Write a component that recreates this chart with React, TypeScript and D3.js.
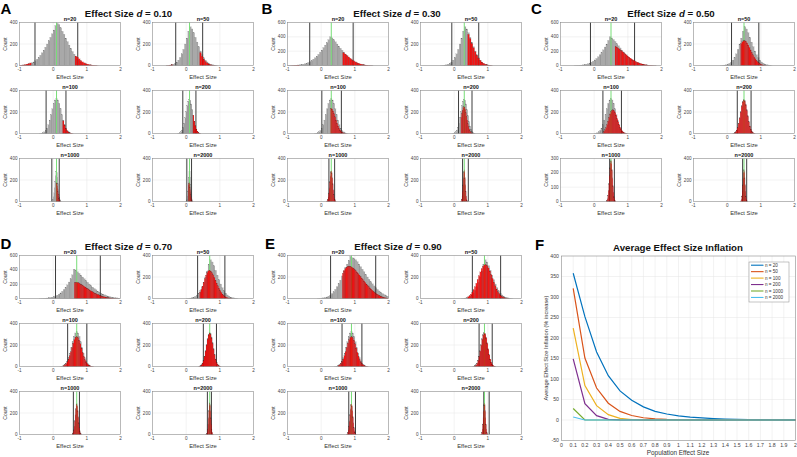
import React from "react";
import * as d3 from "d3";

const FONT = "'Liberation Sans', Arial, Helvetica, sans-serif";

type Bins = { x0: number; w: number; c: number[] };

const sampleSizes = [20, 50, 100, 200, 1000, 2000];
const panelLetters = ["A", "B", "C", "D", "E"];
const panelEffects = ["0.10", "0.30", "0.50", "0.70", "0.90"];
const trueEffect = [0.1, 0.3, 0.5, 0.7, 0.9];
const xTicks = [-1, 0, 1, 2];

// y-axis limits of the six histograms in each panel
const yMax = [
  [400, 400, 400, 400, 400, 400],
  [600, 400, 400, 400, 400, 400],
  [600, 400, 400, 400, 300, 400],
  [600, 400, 400, 400, 400, 400],
  [400, 400, 400, 400, 400, 400],
];

// all simulated effect sizes (grey), n = 20 per panel
const grayN20: Bins[] = [
  { x0: -1.0, w: 0.05, c: [2, 3, 4, 6, 9, 13, 18, 25, 33, 44, 58, 75, 95, 118, 142, 170, 200, 232, 262, 295, 330, 372, 392, 380, 350, 318, 290, 255, 222, 190, 160, 130, 105, 80, 60, 45, 33, 24, 17, 12, 8, 5, 3, 2, 1, 1] },
  { x0: -1.0, w: 0.05, c: [1, 1, 2, 3, 4, 5, 7, 10, 14, 18, 24, 32, 42, 55, 70, 88, 108, 130, 155, 185, 215, 250, 285, 320, 360, 400, 385, 360, 330, 300, 270, 240, 212, 185, 160, 135, 112, 92, 74, 58, 45, 34, 25, 18, 13, 9, 6, 4, 3, 2, 1] },
  { x0: -0.6, w: 0.05, c: [1, 2, 3, 4, 6, 9, 13, 18, 25, 34, 46, 60, 78, 98, 122, 150, 182, 218, 258, 300, 350, 400, 385, 362, 335, 305, 275, 245, 215, 186, 160, 136, 114, 94, 77, 62, 49, 38, 29, 22, 16, 12, 8, 6, 4, 3, 2, 1, 1] },
  { x0: -0.4, w: 0.05, c: [1, 2, 3, 5, 7, 10, 14, 19, 26, 35, 46, 60, 78, 100, 126, 156, 190, 230, 275, 330, 410, 392, 372, 350, 325, 300, 275, 250, 226, 202, 180, 158, 138, 120, 103, 88, 74, 62, 51, 42, 34, 27, 21, 16, 12, 9, 7, 5] },
  { x0: -0.1, w: 0.05, c: [1, 2, 4, 6, 9, 14, 21, 31, 45, 62, 85, 110, 140, 170, 210, 255, 290, 320, 355, 392, 380, 372, 360, 342, 320, 296, 272, 248, 224, 200, 178, 156, 136, 117, 100, 84, 70, 57, 46, 36, 28, 21] },
];

// grey histograms for the larger samples (same shape, shifted by d)
const gray50 = [1, 2, 4, 7, 12, 20, 32, 50, 75, 108, 150, 200, 255, 320, 360, 340, 305, 262, 218, 175, 135, 100, 72, 50, 33, 21, 13, 8, 5, 3, 1];
const gray50Start = [-0.6, -0.4, -0.2, 0.0, 0.2];
const gray100 = [1, 3, 7, 15, 28, 50, 82, 125, 176, 230, 280, 312, 325, 312, 280, 230, 176, 125, 82, 50, 28, 15, 7, 3, 1];
const gray100Start = [-0.4, -0.2, 0.0, 0.2, 0.4];
const gray200 = [1, 3, 7, 16, 32, 58, 96, 146, 204, 259, 301, 320, 310, 275, 222, 166, 112, 70, 40, 20, 9, 4, 1];
const gray200Start = [-0.25, -0.05, 0.15, 0.35, 0.55];
const gray1000 = [4, 10, 21, 44, 80, 128, 188, 240, 280, 290, 270, 225, 166, 110, 66, 35, 16, 7, 3];
const gray1000Start = [-0.04, 0.16, 0.36, 0.56, 0.76];
const gray2000 = [1, 4, 9, 23, 52, 98, 160, 226, 280, 300, 282, 228, 160, 98, 52, 24, 9, 4, 1];
const gray2000Start = [-0.014, 0.186, 0.386, 0.586, 0.786];

// significant effect sizes (red)
const red100 = [9, 16, 27, 45, 69, 100, 137, 177, 217, 250, 271, 278, 269, 245, 211, 172, 131, 94, 64, 41, 25, 14, 8, 4, 2, 1];
const red200 = [2, 6, 14, 30, 55, 93, 142, 198, 252, 292, 310, 300, 266, 215, 160, 108, 68, 38, 19, 9, 4, 1];
const red1000 = [3, 8, 18, 40, 75, 120, 180, 232, 270, 282, 262, 218, 160, 105, 62, 32, 15, 6, 2];
const red2000 = [1, 3, 8, 20, 48, 92, 150, 215, 268, 288, 270, 215, 150, 92, 48, 22, 8, 3, 1];

const redA: Bins[][] = [
  [{ x0: 0.65, w: 0.05, c: [88, 78, 62, 46, 34, 25, 18, 13, 9, 6, 4, 3, 2, 1] }, { x0: -1.0, w: 0.05, c: [3, 4, 6, 9, 13, 18, 24] }],
  [{ x0: 0.4, w: 0.05, c: [120, 85, 58, 38, 24, 14, 8, 4, 2, 1] }, { x0: -0.6, w: 0.05, c: [1, 2, 4, 8] }],
  [{ x0: 0.28, w: 0.04, c: [118, 78, 46, 25, 13, 6, 3, 1] }],
  [{ x0: 0.2, w: 0.03, c: [170, 115, 72, 41, 21, 10, 4, 1] }],
  [{ x0: 0.088, w: 0.01, c: [170, 175, 165, 145, 120, 95, 70, 48, 30, 18, 10, 5, 2] }],
  [{ x0: 0.062, w: 0.008, c: [150, 165, 172, 175, 170, 155, 135, 110, 85, 62, 42, 27, 15, 8, 4, 2] }],
];
const redB: Bins[][] = [
  [{ x0: 0.64, w: 0.05, c: [178, 160, 140, 120, 100, 82, 66, 52, 40, 30, 22, 16, 11, 7, 5, 3, 2, 1] }, { x0: -1.0, w: 0.05, c: [1, 1, 2, 3, 4, 5, 7] }],
  [{ x0: 0.4, w: 0.05, c: [290, 250, 205, 165, 128, 95, 68, 47, 31, 20, 12, 7, 4, 2, 1] }],
  [{ x0: 0.28, w: 0.03, c: [235, 228, 210, 185, 155, 125, 96, 70, 48, 32, 20, 12, 7, 4, 2, 1] }],
  [{ x0: 0.2, w: 0.02, c: [150, 185, 215, 240, 250, 245, 225, 195, 160, 125, 92, 64, 42, 26, 15, 8, 4, 2, 1] }],
  [{ x0: 0.16, w: 0.015, c: red1000 }],
  [{ x0: 0.186, w: 0.012, c: red2000 }],
];
const redC: Bins[][] = [
  [{ x0: 0.62, w: 0.04, c: [265, 255, 240, 225, 210, 195, 180, 164, 148, 132, 117, 103, 90, 78, 66, 56, 47, 39, 32, 26, 21, 16, 12, 9, 7, 5, 4, 3, 2, 1, 1] }],
  [{ x0: 0.4, w: 0.035, c: [205, 220, 230, 232, 225, 210, 190, 168, 145, 122, 100, 80, 62, 47, 35, 25, 17, 11, 7, 4, 2, 1] }],
  [{ x0: 0.28, w: 0.03, c: [20, 35, 55, 82, 115, 150, 182, 205, 218, 220, 212, 195, 170, 140, 110, 82, 58, 38, 24, 14, 8, 4, 2, 1] }],
  [{ x0: 0.18, w: 0.03, c: red200 }],
  [{ x0: 0.36, w: 0.015, c: red1000 }],
  [{ x0: 0.386, w: 0.012, c: red2000 }],
];
const redD: Bins[][] = [
  [{ x0: 0.63, w: 0.035, c: [222, 228, 225, 218, 210, 200, 190, 180, 168, 157, 146, 135, 124, 113, 103, 93, 84, 75, 67, 59, 52, 45, 39, 33, 28, 24, 20, 16, 13, 10, 8, 6, 5, 4, 3, 2, 1, 1] }],
  [{ x0: 0.4, w: 0.035, c: [60, 85, 115, 150, 185, 218, 242, 258, 262, 255, 240, 220, 196, 170, 144, 118, 95, 74, 56, 41, 29, 20, 13, 8, 5, 3, 2, 1] }],
  [{ x0: 0.3, w: 0.035, c: red100 }],
  [{ x0: 0.38, w: 0.03, c: red200 }],
  [{ x0: 0.56, w: 0.015, c: red1000 }],
  [{ x0: 0.586, w: 0.012, c: red2000 }],
];
const redE: Bins[][] = [
  [{ x0: 0.63, w: 0.035, c: [235, 262, 278, 290, 298, 302, 300, 295, 288, 280, 270, 258, 245, 232, 218, 204, 190, 176, 162, 148, 135, 122, 110, 98, 87, 76, 66, 57, 49, 41, 34, 28, 23, 18, 14, 10, 7, 5, 3] }],
  [{ x0: 0.4, w: 0.04, c: [18, 27, 41, 59, 82, 110, 142, 177, 213, 248, 278, 300, 313, 315, 305, 284, 256, 223, 187, 151, 118, 88, 63, 44, 30, 20, 12, 7, 4, 2, 1] }],
  [{ x0: 0.5, w: 0.035, c: red100 }],
  [{ x0: 0.58, w: 0.03, c: red200 }],
  [{ x0: 0.76, w: 0.015, c: red1000 }],
  [{ x0: 0.786, w: 0.012, c: red2000 }],
];
const redAll = [redA, redB, redC, redD, redE];

// black reference lines in each histogram
const blackLines = [
  [[-0.54, 0.73], [-0.31, 0.49], [-0.21, 0.38], [-0.1, 0.29], [-0.04, 0.18], [0.02, 0.16]],
  [[-0.34, 0.95], [-0.07, 0.73], [0.02, 0.6], [0.13, 0.53], [0.23, 0.4], [0.25, 0.42]],
  [[-0.11, 1.2], [0.13, 0.94], [0.26, 0.81], [0.3, 0.71], [0.46, 0.6], [0.46, 0.58]],
  [[0.07, 1.4], [0.34, 1.15], [0.43, 1.0], [0.51, 0.9], [0.6, 0.78], [0.63, 0.75]],
  [[0.28, 1.62], [0.54, 1.38], [0.62, 1.21], [0.74, 1.13], [0.82, 1.02], [0.88, 1.04]],
];

// panel F
const popEffect = [0.1, 0.2, 0.3, 0.4, 0.5, 0.6, 0.7, 0.8, 0.9, 1.0, 1.1, 1.2, 1.3, 1.4, 1.5, 1.6, 1.7, 1.8, 1.9, 2.0];
const inflN20 = [358, 252, 166, 108, 71, 48, 32, 21, 14.6, 10, 7, 5, 3.5, 2.5, 1.8, 1.2, 0.9, 0.6, 0.4, 0.3];
const inflN50 = [321, 151, 78, 41, 21, 11, 5.5, 2.7, 1.3, 0.6, 0.3, 0.1, 0, 0, 0, 0, 0, 0, 0, 0];
const inflN100 = [224, 84, 35, 13, 4, 1.2, 0.3, 0, 0, 0, 0, 0, 0, 0, 0, 0, 0, 0, 0, 0];
const inflN200 = [149, 40, 10.5, 1.5, 0.2, 0, 0, 0, 0, 0, 0, 0, 0, 0, 0, 0, 0, 0, 0, 0];
const inflN1000 = [28, 0.3, 0, 0, 0, 0, 0, 0, 0, 0, 0, 0, 0, 0, 0, 0, 0, 0, 0, 0];
const inflN2000 = [7.3, 0, 0, 0, 0, 0, 0, 0, 0, 0, 0, 0, 0, 0, 0, 0, 0, 0, 0, 0];
const inflSeries = [inflN20, inflN50, inflN100, inflN200, inflN1000, inflN2000];
const inflLabels = ["n = 20", "n = 50", "n = 100", "n = 200", "n = 1000", "n = 2000"];
const inflColors = ["#0072BD", "#D95319", "#EDB120", "#7E2F8E", "#77AC30", "#4DBEEE"];
const fYTicks = [-50, 0, 50, 100, 150, 200, 250, 300, 350, 400];

// layout
const PW = 101;
const PH = 43;
const colLeft = [19.5, 152.5];
const rowTop = [22.5, 90.5, 158.5];
const panelOrigin = [[0, 0], [268, 0], [541, 0], [0, 233], [268, 233]];
const letterPos = [[0.5, 13.5], [261.5, 14], [531, 14], [0.5, 249], [265, 249]];
const titleX = [128.5, 397, 671, 128.5, 398];

function Hist({ left, top, ymax, gray, red, black, green, n }: any) {
  const x = d3.scaleLinear().domain([-1, 2]).range([left, left + PW]);
  const y = d3.scaleLinear().domain([0, ymax]).range([top + PH, top]);
  const yTicks = d3.range(0, ymax + 1, ymax === 300 ? 100 : 200);

  const bars = (b: Bins, fill: string, key: string) =>
    b.c.map((v, i) => {
      if (v <= 0) return null;
      const x1 = x(b.x0 + i * b.w);
      const x2 = x(b.x0 + (i + 1) * b.w);
      const yy = y(Math.min(v, ymax));
      return (
        <rect key={key + i} x={x1} y={yy} width={x2 - x1} height={y(0) - yy}
          fill={fill} stroke="#000" strokeOpacity={0.35} strokeWidth={0.2} />
      );
    });

  return (
    <g>
      {xTicks.slice(1, -1).map((t) => (
        <line key={"gx" + t} x1={x(t)} x2={x(t)} y1={top} y2={top + PH} stroke="#e4e4e4" strokeWidth={0.5} />
      ))}
      {yTicks.slice(1, -1).map((t) => (
        <line key={"gy" + t} x1={left} x2={left + PW} y1={y(t)} y2={y(t)} stroke="#e4e4e4" strokeWidth={0.5} />
      ))}
      {bars(gray, "#a9a9a9", "g")}
      {black.map((v: number, i: number) => (
        <line key={"b" + i} x1={x(v)} x2={x(v)} y1={y(0)} y2={y(ymax)} stroke="#3c3c3c" strokeWidth={1} />
      ))}
      <line x1={x(green)} x2={x(green)} y1={y(0)} y2={y(ymax)} stroke="#77dd77" strokeWidth={1} />
      <g opacity={0.88}>
        {red.map((b: Bins, k: number) => bars(b, "#ff0000", "r" + k))}
      </g>
      <rect x={left} y={top} width={PW} height={PH} fill="none" stroke="#8a8a8a" strokeWidth={0.6} />
      {yTicks.map((t) => (
        <text key={"ty" + t} x={left - 2} y={y(t)} dy="0.35em" textAnchor="end" fontSize={4.6} fill="#444">{t}</text>
      ))}
      {xTicks.map((t) => (
        <text key={"tx" + t} x={x(t)} y={top + PH + 5.6} textAnchor="middle" fontSize={4.6} fill="#444">{t}</text>
      ))}
      <text x={left + PW / 2} y={top + PH + 13.5} textAnchor="middle" fontSize={5.8} fill="#333">Effect Size</text>
      <text transform={`translate(${left - 12.5},${top + PH / 2}) rotate(-90)`} textAnchor="middle" fontSize={5} fill="#333">Count</text>
      <text x={left + PW / 2} y={top - 1.6} textAnchor="middle" fontSize={5.5} fontWeight="bold" fill="#111">{"n=" + n}</text>
    </g>
  );
}

function Panel({ p }: { p: number }) {
  const [ox, oy] = panelOrigin[p];
  const grayShared = [
    null,
    { x0: gray50Start[p], w: 0.05, c: gray50 },
    { x0: gray100Start[p], w: 0.04, c: gray100 },
    { x0: gray200Start[p], w: 0.03, c: gray200 },
    { x0: gray1000Start[p], w: 0.015, c: gray1000 },
    { x0: gray2000Start[p], w: 0.012, c: gray2000 },
  ];
  return (
    <g>
      <text x={letterPos[p][0]} y={letterPos[p][1]} fontSize={15} fontWeight="bold" fill="#000">{panelLetters[p]}</text>
      <text x={titleX[p]} y={oy + 17} textAnchor="middle" fontSize={9.7} fontWeight="bold" fill="#111">
        Effect Size <tspan fontStyle="italic">d</tspan> = {panelEffects[p]}
      </text>
      {sampleSizes.map((n, i) => (
        <Hist key={n}
          left={ox + colLeft[i % 2]} top={oy + rowTop[Math.floor(i / 2)]}
          ymax={yMax[p][i]}
          gray={i === 0 ? grayN20[p] : grayShared[i]}
          red={redAll[p][i]} black={blackLines[p][i]} green={trueEffect[p]} n={n} />
      ))}
    </g>
  );
}

function PanelF() {
  const left = 561.5, right = 795.5, top = 256, bottom = 440.5;
  const x = d3.scaleLinear().domain([0, 2]).range([left, right]);
  const y = d3.scaleLinear().domain([-50, 400]).range([bottom, top]);
  const xt = d3.range(0, 21).map((i) => i / 10);
  const line = d3.line<number>().x((_, i) => x(popEffect[i])).y((v) => y(v));
  return (
    <g>
      <text x={535} y={250} fontSize={15} fontWeight="bold" fill="#000">F</text>
      <text x={678} y={251} textAnchor="middle" fontSize={9.7} fontWeight="bold" fill="#111">Average Effect Size Inflation</text>
      {xt.slice(1, -1).map((t) => (
        <line key={"gx" + t} x1={x(t)} x2={x(t)} y1={top} y2={bottom} stroke="#e4e4e4" strokeWidth={0.5} />
      ))}
      {fYTicks.slice(1, -1).map((t) => (
        <line key={"gy" + t} x1={left} x2={right} y1={y(t)} y2={y(t)} stroke="#e4e4e4" strokeWidth={0.5} />
      ))}
      {inflSeries.map((s, k) => (
        <path key={k} d={line(s) || ""} fill="none" stroke={inflColors[k]} strokeWidth={1.2} />
      ))}
      <rect x={left} y={top} width={right - left} height={bottom - top} fill="none" stroke="#8a8a8a" strokeWidth={0.6} />
      {fYTicks.map((t) => (
        <text key={"ty" + t} x={left - 2.5} y={y(t)} dy="0.35em" textAnchor="end" fontSize={5.2} fill="#444">{t}</text>
      ))}
      {xt.map((t) => (
        <text key={"tx" + t} x={x(t)} y={bottom + 6.5} textAnchor="middle" fontSize={5.2} fill="#444">{String(+t.toFixed(1))}</text>
      ))}
      <text x={678} y={455} textAnchor="middle" fontSize={6.4} fill="#333">Population Effect Size</text>
      <text transform={`translate(547.5,348) rotate(-90)`} textAnchor="middle" fontSize={5.7} fill="#333">Average Effect Size Inflation (% increase)</text>
      <rect x={749} y={262} width={40} height={40} fill="#fff" stroke="#8a8a8a" strokeWidth={0.5} />
      {inflLabels.map((lab, k) => (
        <g key={lab}>
          <line x1={751} x2={763.5} y1={265.2 + k * 6.45} y2={265.2 + k * 6.45} stroke={inflColors[k]} strokeWidth={1.1} />
          <text x={765} y={265.2 + k * 6.45} dy="0.35em" fontSize={4.6} fill="#333">{lab}</text>
        </g>
      ))}
    </g>
  );
}

export default function App() {
  return (
    <svg width={797} height={457} style={{ position: "absolute", left: 0, top: 0, background: "#fff" }}
      fontFamily={FONT}>
      <rect width={797} height={457} fill="#fff" />
      {panelLetters.map((_, p) => <Panel key={p} p={p} />)}
      <PanelF />
    </svg>
  );
}
